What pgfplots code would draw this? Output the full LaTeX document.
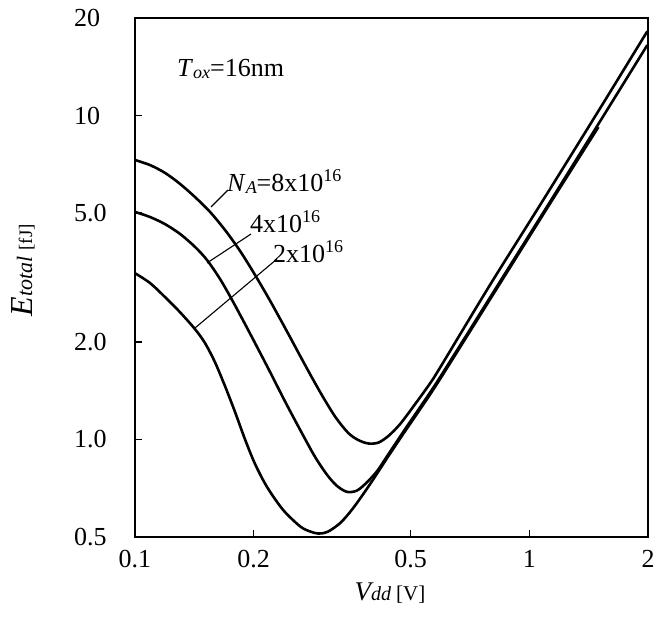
\documentclass[border=0pt]{standalone}
\usepackage{fontspec}
\setmainfont{Liberation Serif}
\usepackage{pgfplots}
\pgfplotsset{compat=1.18}
\pgfplotstableread{
x y
0.1000 7.29
0.1092 7.03
0.1192 6.65
0.1301 6.15
0.1420 5.60
0.1550 5.04
0.1692 4.43
0.1847 3.82
0.2016 3.22
0.2201 2.68
0.2402 2.21
0.2624 1.81
0.2813 1.55
0.3022 1.33
0.3236 1.165
0.3475 1.047
0.3684 0.996
0.3906 0.972
0.4142 0.978
0.4391 1.025
0.4706 1.117
0.5136 1.287
0.5601 1.49
0.5945 1.67
0.7951 3.00
1.0850 5.49
1.5136 10.55
1.9925 18.2
}\curveA
\pgfplotstableread{
x y
0.1000 5.04
0.1092 4.86
0.1192 4.62
0.1301 4.31
0.1420 3.93
0.1523 3.58
0.1643 3.13
0.1763 2.695
0.1902 2.27
0.2040 1.93
0.2201 1.615
0.2402 1.31
0.2624 1.07
0.2863 0.883
0.3072 0.777
0.3257 0.718
0.3453 0.689
0.3660 0.696
0.3881 0.739
0.4115 0.80
0.4361 0.889
0.4788 1.055
0.5290 1.26
0.5945 1.56
0.8440 3.08
1.1440 5.56
1.5136 9.62
1.9925 16.5
}\curveB
\pgfplotstableread{
x y
0.1000 3.26
0.1092 3.04
0.1192 2.75
0.1301 2.47
0.1420 2.19
0.1505 1.985
0.1596 1.73
0.1692 1.46
0.1794 1.215
0.1902 1.00
0.2016 0.84
0.2163 0.713
0.2375 0.606
0.2624 0.539
0.2781 0.520
0.2914 0.5125
0.3072 0.518
0.3314 0.552
0.3575 0.614
0.3949 0.729
0.4361 0.877
0.4788 1.04
0.5290 1.242
0.5945 1.54
0.8440 3.04
1.1440 5.49
1.4970 9.21
}\curveC
\begin{document}
\begin{tikzpicture}
\path[use as bounding box] (-135pt,-81pt) rectangle (520pt,537pt);
\begin{axis}[
  at={(0pt,0pt)}, anchor=south west,
  scale only axis, width=513pt, height=519pt,
  xmode=log, ymode=log,
  xmin=0.1, xmax=2, ymin=0.5, ymax=20,
  xtick={0.1,0.2,0.5,1,2}, xticklabels={0.1,0.2,0.5,1,2},
  ytick={0.5,1,2,5,10,20}, yticklabels={0.5,1.0,2.0,5.0,10,20},
  xminorticks=false, yminorticks=false,
  tick align=inside, xtick pos=left, ytick pos=left,
  major tick length=7pt,
  every tick/.style={black, line width=1.2pt},
  axis line style={line width=1.6pt},
  /pgf/number format/assume math mode=true,
  tick label style={font=\fontsize{26}{28}\selectfont},
  xticklabel style={inner sep=0pt, anchor=north, yshift=-13pt},
  yticklabel style={inner sep=0pt, anchor=west, xshift=-61pt},
  xlabel={{\fontsize{27}{28}\selectfont\itshape V}{\fontsize{20}{20}\selectfont\itshape dd}\hspace{5pt}{\fontsize{21}{21}\selectfont [V]}},
  ylabel={{\fontsize{32}{32}\selectfont\itshape E}{\fontsize{22}{22}\selectfont\itshape total}\hspace{6pt}{\fontsize{19}{19}\selectfont [fJ]}},
  every axis x label/.style={at={(axis description cs:0.497,-0.108)}, anchor=center},
  every axis y label/.style={at={(axis description cs:-0.2183,0.514)}, anchor=center, rotate=90},
]
\addplot[black, line width=2.6pt, smooth, tension=0.5] table {\curveA};
\addplot[black, line width=2.6pt, smooth, tension=0.5] table {\curveB};
\addplot[black, line width=2.6pt, smooth, tension=0.5] table {\curveC};
\end{axis}
\fontsize{26}{28}\selectfont
\node[anchor=base west, inner sep=0pt] at (42pt,460pt) {\textit{T}\raisebox{-2pt}{\fontsize{18}{18}\selectfont\itshape ox}=16nm};
\node[anchor=base west, inner sep=0pt] at (92pt,345pt) {\textit{N}\raisebox{-2pt}{\fontsize{18}{18}\selectfont\itshape A}=8x10\raisebox{10pt}{\fontsize{18}{18}\selectfont 16}};
\node[anchor=base west, inner sep=0pt] at (115pt,304pt) {4x10\raisebox{10pt}{\fontsize{18}{18}\selectfont 16}};
\node[anchor=base west, inner sep=0pt] at (138pt,274pt) {2x10\raisebox{10pt}{\fontsize{18}{18}\selectfont 16}};
\draw[line width=1.1pt] (93pt,347pt) -- (76pt,330pt);
\draw[line width=1.1pt] (116pt,303pt) -- (72pt,274pt);
\draw[line width=1.1pt] (142pt,278pt) -- (60pt,209pt);
\end{tikzpicture}
\end{document}
